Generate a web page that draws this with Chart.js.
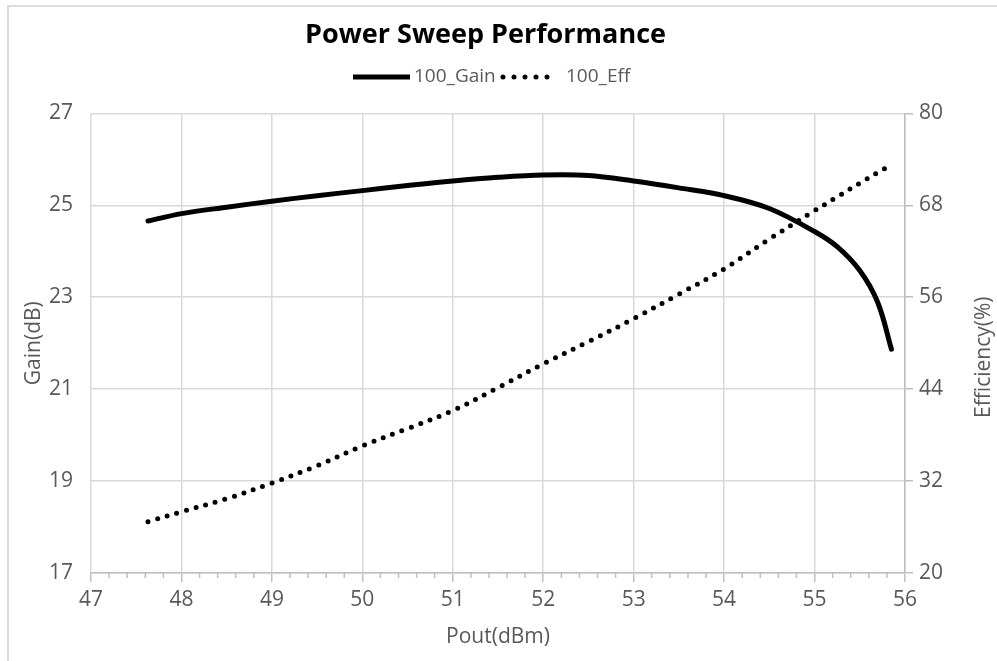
<!DOCTYPE html>
<html>
<head>
<meta charset="utf-8">
<script src="https://cdn.jsdelivr.net/npm/chart.js@4/dist/chart.umd.min.js"></script>
<style>
  html, body { margin: 0; padding: 0; background: #ffffff; }
  #wrap { position: relative; width: 997px; height: 661px; overflow: hidden; }
  #frame { position: absolute; left: 7px; top: 5px; right: -4px; bottom: -4px;
           border-top: 2px solid #dcdcdc; border-left: 2px solid #dcdcdc; }
  canvas { position: absolute; left: 0; top: 0; }
</style>
</head>
<body>
<div id="wrap">
  <div id="frame"></div>
  <canvas id="c" width="997" height="661"></canvas>
</div>
<script>
// ---- data ----
const chartTitle = "Power Sweep Performance";
const pout = [47.63, 48, 48.5, 49, 49.5, 50, 50.5, 51, 51.5, 52, 52.5, 53, 53.5, 54, 54.5, 55, 55.25, 55.5, 55.7, 55.85];
const gain = [24.66, 24.82, 24.96, 25.09, 25.21, 25.32, 25.43, 25.53, 25.61, 25.66, 25.65, 25.53, 25.38, 25.21, 24.93, 24.43, 24.1, 23.58, 22.88, 21.87];
const eff  = [26.7, 28.0, 29.7, 31.75, 34.0, 36.6, 38.85, 41.2, 44.2, 47.3, 50.2, 53.2, 56.4, 59.7, 63.6, 67.3, 69.1, 70.9, 72.3, 73.3];
const seriesNames = ["100_Gain", "100_Eff"];
const xTitle = "Pout(dBm)";
const yTitle = "Gain(dB)";
const y1Title = "Efficiency(%)";

const TEXT = "#595959";
const GRID = "#d9d9d9";
const AXIS = "#bfbfbf";
const FONT = "'Open Sans', 'DejaVu Sans', sans-serif";

const gainPts = pout.map((x, i) => ({ x: x, y: gain[i] }));
const effPts = pout.map((x, i) => ({ x: x, y: eff[i] }));

const minorTicks = {
  id: 'minorTicks',
  afterDraw(chart) {
    const xs = chart.scales.x;
    const ctx = chart.ctx;
    const y0 = chart.chartArea.bottom;
    ctx.save();
    ctx.strokeStyle = AXIS;
    ctx.lineWidth = 1.5;
    for (let k = 0; k <= 45; k++) {
      if (k % 5 === 0) continue;
      const v = xs.min + k * 0.2;
      const px = xs.getPixelForValue(v);
      ctx.beginPath();
      ctx.moveTo(px, y0);
      ctx.lineTo(px, y0 + 5);
      ctx.stroke();
    }
    ctx.restore();
  }
};

const customLegend = {
  id: 'customLegend',
  afterDraw(chart) {
    const ctx = chart.ctx;
    const ds = chart.data.datasets;
    const y = 77;
    ctx.save();
    ctx.font = "19px " + FONT;
    ctx.textBaseline = 'middle';
    ctx.fillStyle = TEXT;
    ctx.strokeStyle = ds[0].borderColor;
    ctx.lineWidth = ds[0].borderWidth;
    ctx.lineCap = 'butt';
    ctx.beginPath(); ctx.moveTo(353, y); ctx.lineTo(410, y); ctx.stroke();
    ctx.fillText(ds[0].label, 414, y);
    ctx.strokeStyle = ds[1].borderColor;
    ctx.lineWidth = ds[1].borderWidth;
    ctx.lineCap = 'round';
    ctx.setLineDash([0, 11]);
    ctx.beginPath(); ctx.moveTo(503, y); ctx.lineTo(548, y); ctx.stroke();
    ctx.setLineDash([]);
    ctx.fillText(ds[1].label, 566, y);
    ctx.restore();
  }
};

const rightTitle = {
  id: 'rightTitle',
  afterDraw(chart) {
    const ctx = chart.ctx;
    const ca = chart.chartArea;
    ctx.save();
    ctx.font = "21px " + FONT;
    ctx.fillStyle = TEXT;
    ctx.textAlign = 'center';
    ctx.textBaseline = 'middle';
    ctx.translate(984, (ca.top + ca.bottom) / 2 + 14);
    ctx.rotate(-Math.PI / 2);
    ctx.fillText(y1Title, 0, 0);
    ctx.restore();
  }
};

new Chart(document.getElementById('c'), {
  type: 'line',
  data: {
    datasets: [
      {
        label: seriesNames[0],
        data: gainPts,
        yAxisID: 'y',
        borderColor: '#000000',
        borderWidth: 5,
        pointRadius: 0,
        fill: false,
        tension: 0.35,
        borderCapStyle: 'round'
      },
      {
        label: seriesNames[1],
        data: effPts,
        yAxisID: 'y1',
        borderColor: '#000000',
        borderWidth: 5,
        borderDash: [0, 10],
        borderCapStyle: 'round',
        pointRadius: 0,
        fill: false,
        tension: 0.35
      }
    ]
  },
  options: {
    responsive: false,
    animation: false,
    devicePixelRatio: 1,
    layout: { padding: { left: 0, right: 26, top: 0, bottom: 0 } },
    plugins: {
      legend: { display: false },
      tooltip: { enabled: false },
      title: {
        display: true,
        text: chartTitle,
        color: '#000000',
        font: { family: FONT, size: 27, weight: 'bold', lineHeight: 1.2 },
        padding: { top: 19, bottom: 62 }
      }
    },
    scales: {
      x: {
        type: 'linear',
        min: 47, max: 56,
        ticks: { stepSize: 1, color: TEXT, font: { family: FONT, size: 21 }, padding: 5, maxRotation: 0 },
        grid: { color: GRID, tickColor: AXIS, tickLength: 9, lineWidth: 1.5 },
        border: { color: AXIS, width: 1.5 },
        title: { display: true, text: xTitle, color: TEXT, font: { family: FONT, size: 21 }, padding: { top: 0, bottom: 11 } },
        afterFit(s) { s.height = 88; }
      },
      y: {
        position: 'left',
        min: 17, max: 27,
        ticks: { stepSize: 2, color: TEXT, font: { family: FONT, size: 21 }, padding: 18 },
        grid: { color: GRID, drawTicks: false, lineWidth: 1.5 },
        border: { display: false },
        title: { display: true, text: yTitle, color: TEXT, font: { family: FONT, size: 21 }, padding: { top: 21, bottom: 0 } },
        afterFit(s) { s.width = 91; }
      },
      y1: {
        position: 'right',
        min: 20, max: 80,
        ticks: { stepSize: 12, color: TEXT, font: { family: FONT, size: 21 }, padding: 6 },
        grid: { drawOnChartArea: false, color: AXIS, tickLength: 8, lineWidth: 1.5 },
        border: { color: AXIS, width: 1.5 },
        afterFit(s) { s.width = 66; }
      }
    }
  },
  plugins: [minorTicks, customLegend, rightTitle]
});
</script>
</body>
</html>
